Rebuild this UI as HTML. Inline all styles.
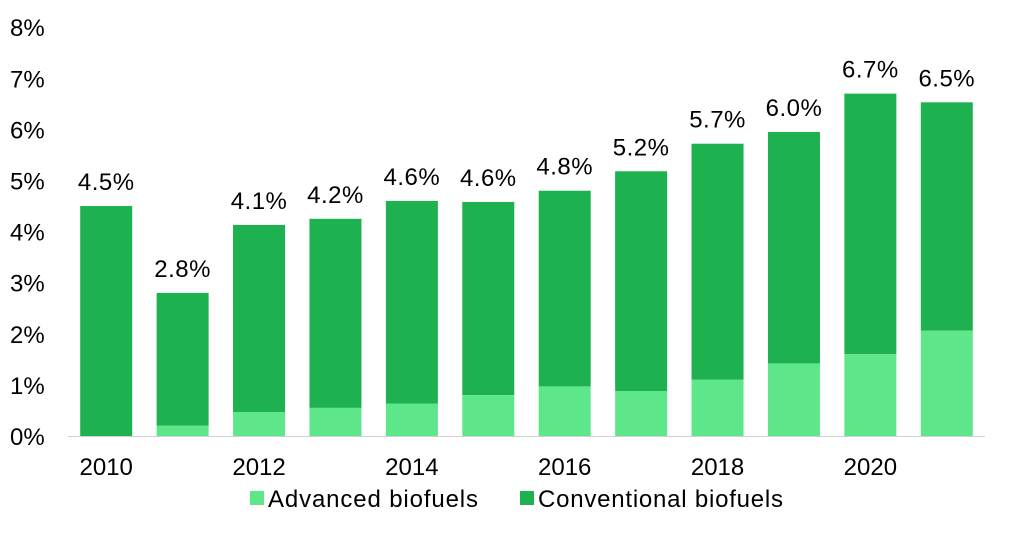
<!DOCTYPE html>
<html><head><meta charset="utf-8"><style>
body{margin:0;background:#fff;font-family:"Liberation Sans",Arial,sans-serif;}
svg text{font-family:"Liberation Sans",Arial,sans-serif;fill:#000;}
</style></head><body>
<svg id="chart" width="1024" height="540"></svg>
<script>
const years=[2010,2011,2012,2013,2014,2015,2016,2017,2018,2019,2020,2021];
const advanced=[0,0.2,0.47,0.55,0.63,0.8,0.97,0.88,1.1,1.42,1.6,2.06];
const totals=[4.5,2.8,4.13,4.25,4.6,4.58,4.8,5.18,5.72,5.95,6.7,6.53];
const totalLabels=["4.5%","2.8%","4.1%","4.2%","4.6%","4.6%","4.8%","5.2%","5.7%","6.0%","6.7%","6.5%"];
const yTicks=[0,1,2,3,4,5,6,7,8];
const xTickYears=[2010,2012,2014,2016,2018,2020];

const svg=document.getElementById('chart');
const NS='http://www.w3.org/2000/svg';
const x0=68,x1=985,y0=436,pxPer=51.1;
const band=(x1-x0)/years.length,bw=52;
const y=v=>y0-v*pxPer;
const xc=i=>x0+band*(i+0.5);
function mk(t,a){const e=document.createElementNS(NS,t);for(const k in a)e.setAttribute(k,a[k]);svg.appendChild(e);return e;}

yTicks.forEach(t=>{
  const e=mk('text',{x:10,y:y(t)+9,'font-size':24});
  e.textContent=t+'%';
  
  
});
const ax=mk('line',{x1:x0,x2:x1,y1:y0+0.5,y2:y0+0.5,stroke:'#d0d0d0','stroke-width':1});



years.forEach((yr,i)=>{
  const cx=xc(i);
  const conv=mk('rect',{x:cx-bw/2,y:y(totals[i]),width:bw,height:y(advanced[i])-y(totals[i]),fill:'#1db14f'});
  
  
  const adv=mk('rect',{x:cx-bw/2,y:y(advanced[i]),width:bw,height:y0-y(advanced[i]),fill:'#5ee68a'});
  
  
  const lb=mk('text',{x:cx,y:y(totals[i])-16,'font-size':24,'text-anchor':'middle','letter-spacing':0.5});
  lb.textContent=totalLabels[i];
  
  
  if(xTickYears.includes(yr)){
    const t=mk('text',{x:cx,y:475,'font-size':24,'text-anchor':'middle'});
    t.textContent=yr;
    
    
  }
});
const l1=mk('rect',{x:250,y:491,width:14,height:14,fill:'#5ee68a'});


const t1=mk('text',{x:268,y:507,'font-size':24,'textLength':210});
t1.textContent='Advanced biofuels';


const l2=mk('rect',{x:520,y:491,width:14,height:14,fill:'#1db14f'});


const t2=mk('text',{x:538,y:507,'font-size':24,'textLength':245});
t2.textContent='Conventional biofuels';


</script>
</body></html>
